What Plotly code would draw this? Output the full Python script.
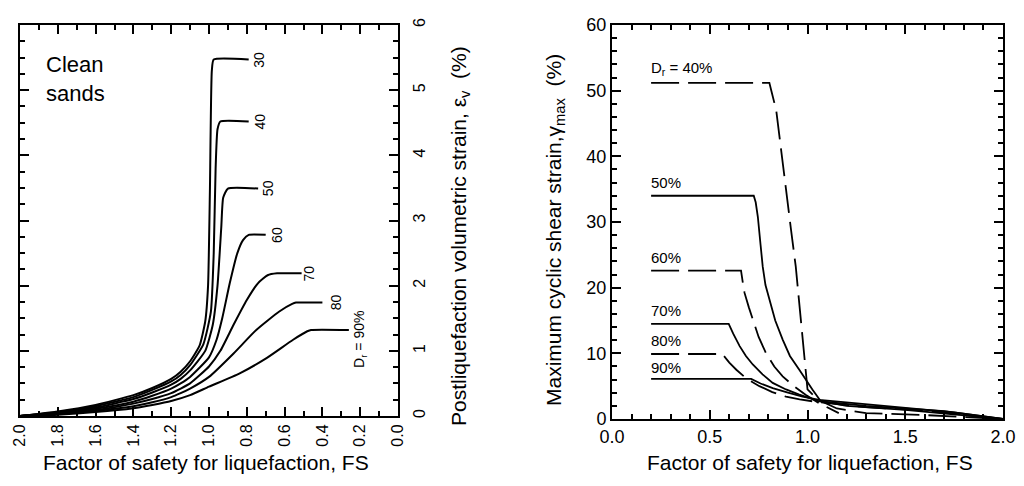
import plotly.graph_objects as go

# ---------------- data: left panel (volumetric strain) ----------------
L_DR = ["30", "40", "50", "60", "70", "80", "90"]
L_FS = {
    "30": [2.0, 1.8, 1.6, 1.4, 1.3, 1.2, 1.15, 1.1, 1.05, 1.02, 1.005, 0.995, 0.985, 0.975, 0.79],
    "40": [2.0, 1.8, 1.6, 1.4, 1.3, 1.2, 1.15, 1.1, 1.03, 0.99, 0.975, 0.965, 0.955, 0.94, 0.79],
    "50": [2.0, 1.8, 1.6, 1.4, 1.3, 1.2, 1.15, 1.1, 1.02, 0.98, 0.955, 0.935, 0.925, 0.9, 0.74],
    "60": [2.0, 1.8, 1.6, 1.4, 1.3, 1.2, 1.15, 1.1, 1.0, 0.96, 0.93, 0.89, 0.85, 0.82, 0.79, 0.70],
    "70": [2.0, 1.8, 1.6, 1.4, 1.3, 1.2, 1.15, 1.1, 1.0, 0.94, 0.87, 0.8, 0.74, 0.69, 0.64, 0.51],
    "80": [2.0, 1.8, 1.6, 1.4, 1.3, 1.2, 1.15, 1.1, 1.0, 0.87, 0.75, 0.63, 0.56, 0.54, 0.40],
    "90": [2.0, 1.8, 1.6, 1.4, 1.3, 1.2, 1.1, 1.0, 0.84, 0.70, 0.555, 0.48, 0.46, 0.26],
}
L_EV = {
    "30": [0, 0.07, 0.17, 0.32, 0.43, 0.57, 0.68, 0.84, 1.08, 1.45, 2.0, 3.5, 5.3, 5.47, 5.47],
    "40": [0, 0.06, 0.15, 0.29, 0.4, 0.53, 0.63, 0.78, 1.1, 1.6, 2.5, 3.8, 4.4, 4.52, 4.52],
    "50": [0, 0.05, 0.13, 0.26, 0.36, 0.48, 0.57, 0.7, 1.0, 1.4, 2.0, 2.9, 3.35, 3.49, 3.49],
    "60": [0, 0.04, 0.11, 0.22, 0.31, 0.42, 0.5, 0.6, 0.9, 1.17, 1.5, 2.04, 2.5, 2.7, 2.78, 2.78],
    "70": [0, 0.035, 0.09, 0.19, 0.26, 0.35, 0.42, 0.5, 0.76, 1.0, 1.4, 1.78, 2.04, 2.16, 2.19, 2.19],
    "80": [0, 0.03, 0.08, 0.15, 0.21, 0.29, 0.35, 0.42, 0.6, 0.96, 1.32, 1.6, 1.72, 1.74, 1.74],
    "90": [0, 0.02, 0.06, 0.12, 0.17, 0.23, 0.32, 0.45, 0.65, 0.88, 1.17, 1.3, 1.32, 1.32],
}
L_LABEL_POS = {  # (FS, strain) of each curve label
    "30": (0.74, 5.47), "40": (0.73, 4.52), "50": (0.69, 3.49), "60": (0.64, 2.78),
    "70": (0.47, 2.19), "80": (0.33, 1.74),
}
L_LABEL_90 = "D<sub>r</sub> = 90%"
L_LABEL_90_POS = (0.2, 1.17)

# ---------------- data: right panel (max shear strain) ----------------
R_DR = ["40", "50", "60", "70", "80", "90"]
R_FS = {
    "40": [0.2, 0.805, 0.815, 0.84, 0.865, 0.89, 0.915, 0.94, 0.962, 0.983, 1.0, 1.05, 1.15, 1.3, 1.6, 2.0],
    "50": [0.2, 0.725, 0.735, 0.746, 0.76, 0.771, 0.785, 0.805, 0.835, 0.873, 0.91, 0.958, 1.0, 1.025,
           1.068, 1.2, 1.5, 2.0],
    "60": [0.2, 0.66, 0.668, 0.678, 0.7, 0.72, 0.75, 0.788, 0.83, 0.873, 0.93, 0.99, 1.06, 1.16],
    "70": [0.2, 0.597, 0.62, 0.653, 0.685, 0.72, 0.77, 0.822, 0.89, 0.958, 1.06, 1.3, 1.7, 2.0],
    "80": [0.2, 0.564, 0.6, 0.636, 0.69, 0.754, 0.82, 0.89, 0.96, 1.025, 1.3, 1.6, 2.0],
    "90": [0.2, 0.712, 0.76, 0.822, 0.9, 0.975, 1.06, 1.4, 1.75, 2.0],
}
R_GM = {
    "40": [51.2, 51.2, 50, 47, 41, 35.4, 29, 23.2, 16.5, 10, 4.5, 3.0, 1.6, 0.9, 0.6, 0],
    "50": [34, 34, 33, 30.8, 26.5, 23.2, 20.4, 18.2, 15, 12.1, 9.6, 7.5, 5.5, 4.5, 2.7, 2.0, 1.4, 0],
    "60": [22.6, 22.6, 21, 19.2, 17, 15.1, 12.5, 10, 8, 6.5, 5, 3.7, 2.4, 0.9],
    "70": [14.5, 14.5, 13, 11.1, 9.6, 8.3, 6.8, 5.5, 4.5, 3.7, 2.7, 2.0, 1.2, 0],
    "80": [9.9, 9.9, 8.6, 7.5, 6.1, 5.0, 4.1, 3.4, 3.0, 2.7, 1.8, 1.3, 0],
    "90": [6.1, 6.1, 5.4, 4.7, 4.0, 3.4, 2.9, 2.0, 1.0, 0],
}
R_DASHED = {"40": True, "50": False, "60": True, "70": False, "80": True, "90": False}
R_LABELS = {"40": "D<sub>r</sub> = 40%", "50": "50%", "60": "60%", "70": "70%", "80": "80%", "90": "90%"}
R_LABEL_Y = {"40": 53.4, "50": 36.0, "60": 24.6, "70": 16.5, "80": 12.0, "90": 7.8}
R_LABEL_X = 0.19

FONT = "Arial, Liberation Sans, sans-serif"
# page offset compensation (browser body margin); keep page free of scrollbars
OFF = 8
W, H = 1024 - 2 * OFF, 486 - 2 * OFF


def px(x):
    return (x - OFF) / W


def py(y):
    return 1 - (y - OFF) / H


fig = go.Figure()

for d in L_DR:
    fig.add_trace(go.Scatter(x=L_FS[d], y=L_EV[d], mode="lines", xaxis="x", yaxis="y",
                             line=dict(color="black", width=2, shape="spline", smoothing=0.5),
                             showlegend=False, hoverinfo="skip"))
for d in R_DR:
    fig.add_trace(go.Scatter(x=R_FS[d], y=R_GM[d], mode="lines", xaxis="x2", yaxis="y2",
                             line=dict(color="black", width=1.8, shape="linear",
                                       dash="28px,9px" if R_DASHED[d] else "solid"),
                             showlegend=False, hoverinfo="skip"))

ann = []
for d, (fx, fy) in L_LABEL_POS.items():
    ann.append(dict(x=fx, y=fy, xref="x", yref="y", text=d, showarrow=False, textangle=-90,
                    font=dict(size=14, family=FONT, color="black")))
ann.append(dict(x=L_LABEL_90_POS[0], y=L_LABEL_90_POS[1], xref="x", yref="y", text=L_LABEL_90,
                showarrow=False, textangle=-90, font=dict(size=14, family=FONT, color="black")))
ann.append(dict(x=px(44), y=py(50), xref="paper", yref="paper", text="Clean<br>sands",
                showarrow=False, xanchor="left", yanchor="top", align="left",
                font=dict(size=22, family=FONT, color="black")))
for d in R_DR:
    ann.append(dict(x=R_LABEL_X, y=R_LABEL_Y[d], xref="x2", yref="y2", text=R_LABELS[d],
                    showarrow=False, xanchor="left", font=dict(size=15, family=FONT, color="black")))
# axis titles
ann.append(dict(x=px(206), y=py(462), xref="paper", yref="paper", xanchor="center", yanchor="middle",
                text="Factor of safety for liquefaction, FS", showarrow=False,
                font=dict(size=21, family=FONT, color="black")))
ann.append(dict(x=px(810), y=py(462), xref="paper", yref="paper", xanchor="center", yanchor="middle",
                text="Factor of safety for liquefaction, FS", showarrow=False,
                font=dict(size=21, family=FONT, color="black")))
ann.append(dict(x=px(460), y=py(236), xref="paper", yref="paper", xanchor="center", yanchor="middle",
                text="Postliquefaction volumetric strain, ε<sub>v</sub>  (%)", showarrow=False,
                textangle=-90, font=dict(size=21, family=FONT, color="black")))
ann.append(dict(x=px(555), y=py(230), xref="paper", yref="paper", xanchor="center", yanchor="middle",
                text="Maximum cyclic shear strain,γ<sub>max</sub>  (%)", showarrow=False,
                textangle=-90, font=dict(size=21, family=FONT, color="black")))

axis_common = dict(showgrid=False, zeroline=False, showline=True, linecolor="black", linewidth=2,
                   mirror="ticks", ticks="inside", tickcolor="black", tickwidth=1.5,
                   automargin=False, ticklabeloverflow="allow")

fig.update_layout(
    width=W, height=H, margin=dict(l=0, r=0, t=0, b=0, pad=0), autosize=False,
    paper_bgcolor="white", plot_bgcolor="white", annotations=ann,
    xaxis=dict(domain=[px(20), px(398)], range=[2.0, 0.0], dtick=0.2, tick0=0,
               tickformat=".1f", tickangle=-90, ticklen=9,
               minor=dict(dtick=0.1, ticks="inside", ticklen=5, tickcolor="black", tickwidth=1.5),
               anchor="y", tickfont=dict(family=FONT, color="black", size=16), **axis_common),
    yaxis=dict(domain=[py(416), py(25)], range=[0, 6], dtick=1, side="right",
               tickangle=-90, ticklen=9, ticklabelstandoff=6,
               minor=dict(dtick=0.25, ticks="inside", ticklen=5, tickcolor="black", tickwidth=1.5),
               anchor="x", tickfont=dict(family=FONT, color="black", size=16), **axis_common),
    xaxis2=dict(domain=[px(612), px(1003)], range=[0, 2.0], dtick=0.5, tick0=0,
                tickformat=".1f", ticklen=9,
                minor=dict(dtick=0.1, ticks="inside", ticklen=5, tickcolor="black", tickwidth=1.5),
                anchor="y2", tickfont=dict(family=FONT, color="black", size=18), **axis_common),
    yaxis2=dict(domain=[py(419), py(25)], range=[0, 60], dtick=10, ticklen=9,
                minor=dict(dtick=2, ticks="inside", ticklen=5, tickcolor="black", tickwidth=1.5),
                anchor="x2", tickfont=dict(family=FONT, color="black", size=18), **axis_common),
)

fig.write_html("out.html")
